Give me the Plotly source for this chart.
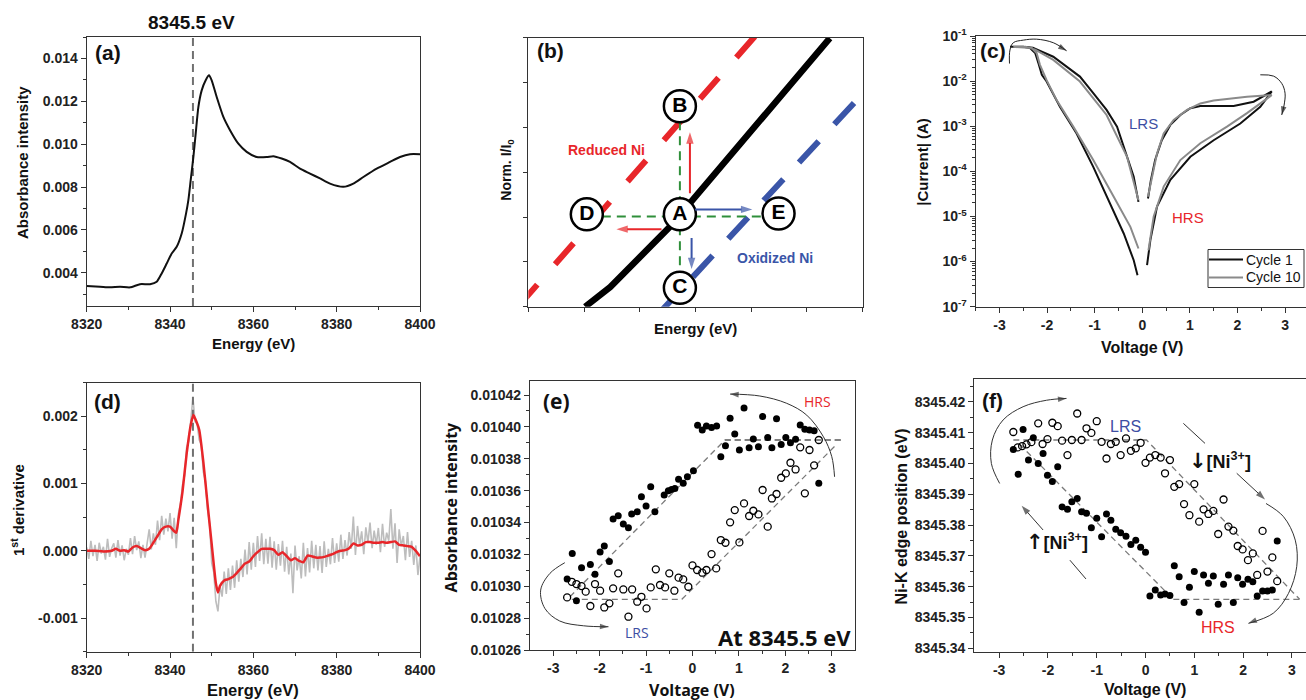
import math
import plotly.graph_objects as go

W, H = 1306, 700
FT = "Liberation Sans, Arial, sans-serif"
OS = "Open Sans, Liberation Sans, sans-serif"
RED = "#e8262a"
BLUE = "#3d4ea3"
BBLUE = "#3a55a8"
AXC = "#333333"

# ---------------- (a) XANES spectrum ----------------
a_energy = [8320, 8323.2, 8325.6, 8328, 8330.4, 8332.8, 8335.2, 8336.8, 8338, 8339.2, 8340.4, 8341.6,
            8342.8, 8343.84, 8344.4, 8344.96, 8345.6, 8346.16, 8346.8, 8347.6, 8348.56, 8349.36, 8350,
            8351.2, 8352.8, 8354.4, 8356.4, 8358.4, 8360.8, 8363.2, 8364.8, 8366.8, 8368.8, 8371.2,
            8373.6, 8376, 8378.4, 8381.6, 8384, 8386.4, 8389.6, 8392.8, 8395.2, 8397.6, 8400]
a_abs = [0.00338, 0.00335, 0.00332, 0.00335, 0.00332, 0.00347, 0.00347, 0.00358, 0.00397, 0.00443,
         0.0049, 0.00521, 0.00583, 0.00676, 0.00739, 0.00832, 0.0094, 0.01049, 0.01173, 0.01251,
         0.01298, 0.01321, 0.01298, 0.0122, 0.01127, 0.01065, 0.01002, 0.00964, 0.0094, 0.0094,
         0.00944, 0.00933, 0.00917, 0.00886, 0.00863, 0.0084, 0.00816, 0.00801, 0.00816, 0.00847,
         0.00886, 0.00917, 0.0094, 0.00953, 0.00953]
edge_energy = 8345.5

# ---------------- (d) first derivative ----------------
d_smooth_e = [8320, 8322, 8324, 8326, 8327, 8328, 8329, 8330, 8331, 8332, 8333, 8334, 8335, 8336, 8337,
              8338, 8339, 8340, 8341, 8341.5, 8342, 8343, 8344, 8345, 8345.6, 8346, 8347, 8348, 8349,
              8350, 8351, 8351.5, 8352, 8353, 8354, 8355, 8356, 8357, 8358, 8359, 8360, 8361, 8362,
              8363, 8364, 8365, 8366, 8367, 8368, 8369, 8370, 8371, 8372, 8373, 8374, 8375, 8376, 8377,
              8378, 8379, 8380, 8381, 8382, 8383, 8384, 8385, 8386, 8387, 8388, 8389, 8390, 8391, 8392,
              8393, 8394, 8395, 8396, 8397, 8398, 8399, 8400]
d_smooth = [0.0, 0.0, -0.00001, 0.0, 0.00003, 0.0, 0.00001, -0.00001, 0.00005, 0.00007, 0.00004, 0.00001,
            0.00003, 0.00012, 0.00022, 0.00032, 0.00036, 0.00036, 0.00029, 0.00027, 0.00046, 0.00088,
            0.00145, 0.00188, 0.00202, 0.00197, 0.0018, 0.00132, 0.0007, 0.0001, -0.00048, -0.00062,
            -0.00052, -0.00044, -0.00042, -0.00039, -0.00033, -0.00026, -0.00019, -0.00016, -0.00008,
            -0.00002, 0.00003, 0.00003, 0.00003, 0.00001, -0.00006, -0.00002, -0.00008, -0.00014, -0.00011,
            -0.00015, -0.00017, -0.00007, -0.00008, -0.0001, -0.0001, -0.00009, -0.00007, -0.00005,
            -0.00002, 0.0, 0.00001, 0.00004, 0.00011, 0.00008, 0.00009, 0.00013, 0.00013, 0.00012,
            0.00012, 0.00013, 0.00012, 0.00013, 0.00014, 0.00009, 0.00008, 0.00007, 0.00006, 0.0, -0.00008]
d_raw_e = [8320 + 0.5 * i for i in range(161)]
d_raw = [0.00005, -0.00012, 0.00015, -0.00008, 0.00009, -0.00015, 0.00012, -0.00004, 0.00006, -0.00013,
         0.00018, -0.00009, 0.00004, 0.00011, -0.0001, 0.00016, -0.00007, 0.00008, -0.00014, 0.00003,
         -0.00006, 0.00019, -0.00005, 0.00022, 0.00001, 0.00014, -0.00011, 0.00009, -0.0001, 0.00015,
         0.00032, 0.00002, 0.00026, 0.00009, 0.00045, 0.00016, 0.00052, 0.00024, 0.00048, 0.00029,
         0.00056, 0.00018, 0.00049, 0.00004, 0.00055, 0.0007, 0.00098, 0.00112, 0.00154, 0.00163,
         0.00198, 0.00228, 0.00192, 0.00189, 0.00165, 0.00158, 0.00117, 0.00104, 0.00062, 0.00041,
         -0.00018, -0.00032, -0.00075, -0.0009, -0.00052, -0.00068, -0.00031, -0.00064, -0.00026, -0.00058,
         -0.00022, -0.00055, -0.00014, -0.00046, -0.00012, -0.00039, 0.00002, -0.00035, 0.00013, -0.00028,
         0.00012, -0.00024, 0.00022, -0.00015, 0.00026, -0.0002, 0.00018, -0.00019, 0.00021, -0.00025,
         0.00014, -0.00028, 0.0001, -0.00022, 0.00015, -0.00031, 0.00006, -0.00035, -0.00004, -0.00063,
         0.00008, -0.00029, -0.00008, -0.00041, 0.00012, -0.00038, 0.00004, -0.00032, 0.00015, -0.00026,
         0.00009, -0.00029, 0.00007, -0.00033, 0.00014, -0.00024, 0.00003, -0.0002, 0.00019, -0.00018,
         0.00011, -0.00016, 0.00024, -0.00012, 0.00016, -0.00007, 0.00028, 0.00003, 0.00051, -0.00006,
         0.00037, 0.00008, 0.00029, -0.00005, 0.00035, 0.00012, 0.00042, 0.00004, 0.0003, 0.00009,
         0.00034, -0.00002, 0.0004, 0.00006, 0.00027, 0.00015, 0.00062, 0.00003, 0.00041, -0.00018,
         0.00032, 0.00007, 0.00022, -0.00014, 0.00028, -0.00009, 0.00015, -0.00021, 0.00008, -0.00036,
         -0.00009]

# ---------------- (b) schematic ----------------
b_black_x = [1.02, 1.47, 2.54, 5.41]
b_black_y = [0.0, 0.44, 1.78, 5.99]
b_red_x = [-0.82, 4.10]
b_red_y = [-0.90, 6.08]
b_blue_x = [1.685, 6.0]
b_blue_y = [-1.035, 4.75]
b_circ_label = ["A", "B", "C", "D", "E"]
b_circ_x = [2.72, 2.72, 2.72, 1.05, 4.49]
b_circ_y = [2.06, 4.47, 0.42, 2.06, 2.08]
b_green_h_x = [1.05, 4.49]
b_green_h_y = [2.01, 2.01]
b_green_v_x = [2.72, 2.72]
b_green_v_y = [4.47, 0.42]
# arrows: (x_tail, y_tail, x_head, y_head, color)
b_arrows = [(2.90, 2.53, 2.90, 3.89, RED), (2.39, 1.73, 1.58, 1.73, RED),
            (2.99, 2.17, 4.02, 2.17, BBLUE), (2.93, 1.53, 2.93, 0.84, BBLUE)]

# ---------------- (c) I-V curves ----------------
c1_neg_V = [-0.10, -0.18, -0.39, -0.68, -1.03, -1.38, -1.73, -2.01, -2.11, -2.18, -2.25, -2.36, -2.50, -2.78,
            -2.50, -2.30, -2.10, -1.87, -1.59, -1.31, -1.03, -0.75, -0.53, -0.32, -0.18, -0.08]
c1_neg_I = [5.0e-7, 1.07e-6, 4.2e-6, 1.95e-5, 1.26e-4, 6.9e-4, 2.7e-3, 9.8e-3, 1.38e-2, 2.45e-2, 4.2e-2,
            5.4e-2, 5.75e-2, 5.75e-2, 5.75e-2, 5.5e-2, 4.4e-2, 3.47e-2, 2.1e-2, 1.26e-2, 5.4e-3, 2.3e-3,
            9.8e-4, 2.1e-4, 7.6e-5, 2.1e-5]
c1_pos_V = [0.10, 0.17, 0.31, 0.59, 1.01, 1.50, 2.06, 2.48, 2.72, 2.34, 1.92, 1.50, 1.22, 1.01, 0.80, 0.59,
            0.41, 0.27, 0.18, 0.12]
c1_pos_I = [8.3e-7, 3.0e-6, 1.66e-5, 6.5e-5, 2.1e-4, 4.9e-4, 1.15e-3, 2.7e-3, 5.9e-3, 3.5e-3, 2.8e-3, 2.8e-3,
            2.8e-3, 2.5e-3, 1.78e-3, 1.07e-3, 4.9e-4, 1.78e-4, 6.3e-5, 2.5e-5]
c10_neg_V = [-0.08, -0.25, -0.60, -1.03, -1.45, -1.80, -2.01, -2.09, -2.15, -2.22, -2.32, -2.71,
             -2.45, -2.25, -1.87, -1.31, -0.75, -0.32, -0.11, -0.08]
c10_neg_I = [1.95e-6, 5.9e-6, 2.75e-5, 1.78e-4, 9.8e-4, 3.8e-3, 1.05e-2, 1.62e-2, 2.3e-2, 4.2e-2, 5.4e-2,
             5.75e-2, 5.75e-2, 5.0e-2, 2.95e-2, 9.8e-3, 1.78e-3, 2.1e-4, 2.75e-5, 2.3e-5]
c10_pos_V = [0.13, 0.24, 0.45, 0.80, 1.22, 1.78, 2.20, 2.72, 2.20, 1.50, 1.22, 0.94, 0.66, 0.45, 0.31, 0.20, 0.12]
c10_pos_I = [1.78e-6, 1.0e-5, 4.6e-5, 1.78e-4, 4.2e-4, 9.8e-4, 1.95e-3, 4.9e-3, 4.5e-3, 3.7e-3, 3.2e-3,
             2.3e-3, 1.38e-3, 6.9e-4, 2.5e-4, 7.6e-5, 2.75e-5]
c_arc1_V = [-2.79, -2.78, -2.71, -2.50, -2.22, -1.87, -1.59]
c_arc1_I = [2.45e-2, 4.9e-2, 7.1e-2, 8.1e-2, 8.5e-2, 7.1e-2, 4.7e-2]
c_arc2_V = [2.48, 2.76, 2.93, 3.00, 2.98, 2.93]
c_arc2_I = [1.38e-2, 1.29e-2, 8.9e-3, 5.4e-3, 2.95e-3, 1.78e-3]
c_legend_names = ["Cycle 1", "Cycle 10"]
c_legend_colors = ["#111111", "#8a8a8a"]

# ---------------- (e) absorbance vs voltage ----------------
e_fill_V = [-2.70, -2.59, -2.50, -2.39, -2.20, -2.10, -1.99, -1.90, -1.79, -1.71, -1.60, -1.49, -1.38, -1.31,
            -1.19, -1.10, -1.00, -0.90, -0.81, -0.61, -0.52, -0.45, -0.38, -0.30, -0.20, -0.11, 0.02, 0.11,
            0.21, 0.30, 0.41, 0.52, 0.61, 0.71, 0.81, 0.91, 1.01, 1.11, 1.22, 1.31, 1.42, 1.51, 1.62, 1.71,
            1.81, 1.91, 2.01, 2.11, 2.22, 2.32, 2.42, 2.52, 2.62, 2.72]
e_fill_A = [0.0103045, 0.0103206, 0.0102909, 0.0103116, 0.0103137, 0.0103075, 0.0103215, 0.0103252,
            0.0103156, 0.0103422, 0.0103443, 0.0103390, 0.0103367, 0.0103453, 0.0103468, 0.0103562,
            0.0103503, 0.0103625, 0.0103468, 0.0103572, 0.0103600, 0.0103608, 0.0103614, 0.0103671,
            0.0103646, 0.0103687, 0.0103725, 0.0104010, 0.0103980, 0.0104005, 0.0103997, 0.0104005,
            0.0103813, 0.0103882, 0.0104054, 0.0103955, 0.0103855, 0.0104118, 0.0103869, 0.0103924,
            0.0103876, 0.0104066, 0.0103934, 0.0103869, 0.0104051, 0.0103890, 0.0103934, 0.0103901,
            0.0103922, 0.0104012, 0.0103985, 0.0103980, 0.0103976, 0.0103646]
e_open_V = [-2.70, -2.60, -2.50, -2.39, -2.30, -2.20, -2.10, -1.99, -1.90, -1.79, -1.71, -1.60, -1.49, -1.38,
            -1.30, -1.19, -1.10, -0.99, -0.90, -0.79, -0.70, -0.59, -0.50, -0.39, -0.30, -0.20, -0.09, 0.00,
            0.10, 0.21, 0.30, 0.41, 0.51, 0.61, 0.71, 0.81, 0.91, 1.01, 1.11, 1.22, 1.31, 1.42, 1.51, 1.62,
            1.71, 1.81, 1.91, 2.01, 2.11, 2.22, 2.32, 2.42, 2.52, 2.62, 2.72]
e_open_A = [0.0102930, 0.0103028, 0.0103014, 0.0103001, 0.0102966, 0.0102876, 0.0103014, 0.0102972,
            0.0102867, 0.0102893, 0.0102987, 0.0103081, 0.0102980, 0.0102809, 0.0102980, 0.0102903,
            0.0102934, 0.0102861, 0.0102993, 0.0103106, 0.0103008, 0.0102993, 0.0103081, 0.0102972,
            0.0103054, 0.0103043, 0.0102997, 0.0103131, 0.0103102, 0.0103085, 0.0103102, 0.0103202,
            0.0103112, 0.0103290, 0.0103273, 0.0103401, 0.0103478, 0.0103275, 0.0103520, 0.0103441,
            0.0103474, 0.0103451, 0.0103604, 0.0103374, 0.0103551, 0.0103579, 0.0103681, 0.0103708,
            0.0103775, 0.0103733, 0.0103872, 0.0103583, 0.0103855, 0.0103759, 0.0103918]
e_guide_V = [-2.64, 0.70, 3.21, None, 0.70, 3.21, None, -2.60, -0.23, 3.11]
e_guide_A = [0.0102934, 0.0103918, 0.0103918, None, 0.0103918, 0.0103918, None, 0.0102918, 0.0102918, 0.0103892]
e_arc1_V = [3.06, 3.00, 2.82, 2.46, 2.03, 1.45, 0.81]
e_arc1_A = [0.0103687, 0.0103813, 0.0103938, 0.0104074, 0.0104148, 0.0104194, 0.0104206]
e_arc2_V = [-2.75, -3.07, -3.27, -3.18, -2.86, -2.35, -1.81]
e_arc2_A = [0.0103148, 0.0103081, 0.0102976, 0.0102861, 0.0102782, 0.0102752, 0.0102746]

# ---------------- (f) edge position vs voltage ----------------
f_open_V = [-2.71, -2.62, -2.53, -2.44, -2.34, -2.20, -2.11, -2.01, -1.91, -1.80, -1.71, -1.60, -1.51, -1.40,
            -1.31, -1.21, -1.11, -1.00, -0.90, -0.80, -0.71, -0.61, -0.51, -0.40, -0.30, -0.20, -0.10, 0.00,
            0.09, 0.20, 0.31, 0.40, 0.50, 0.59, 0.69, 0.79, 0.90, 1.00, 1.10, 1.19, 1.29, 1.39, 1.49, 1.60,
            1.70, 1.80, 1.89, 1.99, 2.10, 2.20, 2.29, 2.40, 2.50, 2.60, 2.70]
f_open_E = [8345.4102, 8345.4052, 8345.4056, 8345.4062, 8345.4069, 8345.4130, 8345.4063, 8345.4079, 8345.4132,
            8345.4121, 8345.4074, 8345.4027, 8345.4076, 8345.4162, 8345.4076, 8345.4114, 8345.4099, 8345.4137,
            8345.4070, 8345.4016, 8345.4063, 8345.4070, 8345.4027, 8345.4081, 8345.4041, 8345.4049, 8345.4067,
            8345.4002, 8345.4019, 8345.4027, 8345.4019, 8345.3968, 8345.4011, 8345.3924, 8345.3933, 8345.3868,
            8345.3832, 8345.3933, 8345.3811, 8345.3851, 8345.3836, 8345.3846, 8345.3771, 8345.3883, 8345.3795,
            8345.3782, 8345.3732, 8345.3721, 8345.3686, 8345.3708, 8345.3638, 8345.3781, 8345.3649, 8345.3695,
            8345.3618]
f_fill_V = [-2.71, -2.61, -2.51, -2.40, -2.30, -2.20, -2.10, -2.01, -1.91, -1.80, -1.71, -1.60, -1.51, -1.40,
            -1.31, -1.21, -1.11, -1.00, -0.90, -0.80, -0.71, -0.61, -0.51, -0.40, -0.30, -0.20, -0.10, 0.00,
            0.09, 0.20, 0.31, 0.40, 0.50, 0.59, 0.69, 0.79, 0.90, 1.00, 1.10, 1.19, 1.29, 1.39, 1.49, 1.60,
            1.70, 1.80, 1.89, 1.99, 2.10, 2.20, 2.29, 2.40, 2.50, 2.60, 2.70]
f_fill_E = [8345.4045, 8345.3965, 8345.4110, 8345.4011, 8345.4083, 8345.4000, 8345.4032, 8345.3962, 8345.3941,
            8345.3989, 8345.3859, 8345.3851, 8345.3876, 8345.3886, 8345.3843, 8345.3838, 8345.3791, 8345.3822,
            8345.3762, 8345.3836, 8345.3816, 8345.3786, 8345.3775, 8345.3764, 8345.3737, 8345.3751, 8345.3728,
            8345.3712, 8345.3570, 8345.3589, 8345.3573, 8345.3576, 8345.3571, 8345.3668, 8345.3632, 8345.3549,
            8345.3598, 8345.3649, 8345.3517, 8345.3638, 8345.3611, 8345.3635, 8345.3543, 8345.3608, 8345.3638,
            8345.3549, 8345.3629, 8345.3608, 8345.3624, 8345.3616, 8345.3570, 8345.3586, 8345.3586, 8345.3589,
            8345.3748]
f_guide_V = [-2.71, 0.02, 3.16, None, 0.57, 3.17, None, -2.58, 0.57]
f_guide_E = [8345.4076, 8345.4076, 8345.3559, None, 8345.3559, 8345.3559, None, 8345.4062, 8345.3559]
f_arc1_V = [-2.99, -3.16, -3.14, -2.92, -2.51, -2.03, -1.62]
f_arc1_E = [8345.3935, 8345.4000, 8345.4076, 8345.4141, 8345.4184, 8345.4205, 8345.4211]
f_arc2_V = [2.47, 2.83, 3.07, 3.10, 2.93, 2.62, 2.11]
f_arc2_E = [8345.3870, 8345.3827, 8345.3751, 8345.3665, 8345.3578, 8345.3514, 8345.3481]
f_seg_plain = [(0.776, 8345.4130, 1.22, 8345.4065), (-1.55, 8345.3686, -1.22, 8345.3625)]
f_seg_arrow = [(1.87, 8345.3968, 2.45, 8345.3883), (-2.10, 8345.3784, -2.54, 8345.3863)]

volt_ticks = [-3, -2, -1, 0, 1, 2, 3]
volt_text = ["-3", "-2", "-1", "0", "1", "2", "3"]


def px(x):
    return x / W


def py(y):
    return 1 - y / H


def dom_x(l, r):
    return [px(l), min(px(r), 1.0)]


def dom_y(t, b):
    return [py(b), py(t)]


fig = go.Figure()


def arrow_line(xs, ys, xa, ya, color="#222", width=1.0, head=9, spline=False):
    """Line through (xs, ys) with an arrowhead marker on its last point."""
    n = len(xs)
    fig.add_trace(go.Scatter(
        x=xs, y=ys, mode="lines+markers", xaxis=xa, yaxis=ya, showlegend=False, hoverinfo="skip",
        line=dict(color=color, width=width, shape="spline" if spline else "linear"),
        marker=dict(symbol=["circle"] * (n - 1) + ["arrow"], size=[0] * (n - 1) + [head],
                    angleref="previous", color=color, line=dict(width=0))))


# (a)
fig.add_trace(go.Scatter(x=[edge_energy, edge_energy], y=[0.00245, 0.015], mode="lines",
                         line=dict(color="#707070", width=2, dash="8px,5px"), xaxis="x", yaxis="y", showlegend=False))
fig.add_trace(go.Scatter(x=a_energy, y=a_abs, mode="lines", line=dict(color="#111", width=2, shape="spline", smoothing=0.6),
                         xaxis="x", yaxis="y", showlegend=False))

# (b)
fig.add_trace(go.Scatter(x=b_red_x, y=b_red_y, mode="lines", line=dict(color=RED, width=6, dash="28px,27px"),
                         xaxis="x2", yaxis="y2", showlegend=False))
fig.add_trace(go.Scatter(x=b_blue_x, y=b_blue_y, mode="lines", line=dict(color=BBLUE, width=6, dash="29px,23px"),
                         xaxis="x2", yaxis="y2", showlegend=False))
fig.add_trace(go.Scatter(x=b_black_x, y=b_black_y, mode="lines", line=dict(color="black", width=6.5),
                         xaxis="x2", yaxis="y2", showlegend=False))
fig.add_trace(go.Scatter(x=b_green_h_x, y=b_green_h_y, mode="lines", line=dict(color="#2f8f3a", width=2, dash="9px,6px"),
                         xaxis="x2", yaxis="y2", showlegend=False))
fig.add_trace(go.Scatter(x=b_green_v_x, y=b_green_v_y, mode="lines", line=dict(color="#2f8f3a", width=2, dash="9px,6px"),
                         xaxis="x2", yaxis="y2", showlegend=False))
fig.add_trace(go.Scatter(x=b_circ_x, y=b_circ_y, mode="markers+text", text=b_circ_label, textposition="middle center",
                         textfont=dict(family=FT, size=21, color="black", weight="bold"),
                         marker=dict(size=32, color="white", line=dict(color="black", width=2.5)),
                         xaxis="x2", yaxis="y2", showlegend=False, cliponaxis=False))
for (x0, y0, x1, y1, col) in b_arrows:
    arrow_line([x0, x1], [y0, y1], "x2", "y2", color=col, width=2, head=12)

# (c)
fig.add_trace(go.Scatter(x=c1_neg_V + [None] + c1_pos_V, y=c1_neg_I + [None] + c1_pos_I, mode="lines",
                         line=dict(color=c_legend_colors[0], width=2), name=c_legend_names[0],
                         xaxis="x3", yaxis="y3", showlegend=False))
fig.add_trace(go.Scatter(x=c10_neg_V + [None] + c10_pos_V, y=c10_neg_I + [None] + c10_pos_I, mode="lines",
                         line=dict(color=c_legend_colors[1], width=2), name=c_legend_names[1],
                         xaxis="x3", yaxis="y3", showlegend=False))
arrow_line(c_arc1_V, c_arc1_I, "x3", "y3", spline=True)
arrow_line(c_arc2_V, c_arc2_I, "x3", "y3", spline=True)

# (d)
fig.add_trace(go.Scatter(x=d_raw_e, y=d_raw, mode="lines", line=dict(color="#bdbdbd", width=1.6),
                         xaxis="x4", yaxis="y4", showlegend=False))
fig.add_trace(go.Scatter(x=[edge_energy, edge_energy], y=[-0.0015, 0.0025], mode="lines",
                         line=dict(color="#707070", width=2, dash="8px,5px"), xaxis="x4", yaxis="y4", showlegend=False))
fig.add_trace(go.Scatter(x=d_smooth_e, y=d_smooth, mode="lines", line=dict(color=RED, width=2.5, shape="spline", smoothing=0.5),
                         xaxis="x4", yaxis="y4", showlegend=False))

# (e)
fig.add_trace(go.Scatter(x=e_guide_V, y=e_guide_A, mode="lines", line=dict(color="#7a7a7a", width=1.3, dash="6px,4px"),
                         xaxis="x5", yaxis="y5", showlegend=False))
arrow_line(e_arc1_V, e_arc1_A, "x5", "y5", color="#333", spline=True)
arrow_line(e_arc2_V, e_arc2_A, "x5", "y5", color="#333", spline=True)
fig.add_trace(go.Scatter(x=e_fill_V, y=e_fill_A, mode="markers", marker=dict(size=7, color="black"),
                         xaxis="x5", yaxis="y5", showlegend=False))
fig.add_trace(go.Scatter(x=e_open_V, y=e_open_A, mode="markers",
                         marker=dict(size=7, symbol="circle-open", color="black", line=dict(width=1.3)),
                         xaxis="x5", yaxis="y5", showlegend=False))

# (f)
fig.add_trace(go.Scatter(x=f_guide_V, y=f_guide_E, mode="lines", line=dict(color="#7a7a7a", width=1.3, dash="6px,4px"),
                         xaxis="x6", yaxis="y6", showlegend=False))
arrow_line(f_arc1_V, f_arc1_E, "x6", "y6", color="#333", spline=True)
arrow_line(f_arc2_V, f_arc2_E, "x6", "y6", color="#333", spline=True)
for (x0, y0, x1, y1) in f_seg_plain:
    fig.add_trace(go.Scatter(x=[x0, x1], y=[y0, y1], mode="lines", line=dict(color="#333", width=1),
                             xaxis="x6", yaxis="y6", showlegend=False))
for (x0, y0, x1, y1) in f_seg_arrow:
    arrow_line([x0, x1], [y0, y1], "x6", "y6", color="#333", head=10)
fig.add_trace(go.Scatter(x=f_fill_V, y=f_fill_E, mode="markers", marker=dict(size=7, color="black"),
                         xaxis="x6", yaxis="y6", showlegend=False))
fig.add_trace(go.Scatter(x=f_open_V, y=f_open_E, mode="markers",
                         marker=dict(size=7, symbol="circle-open", color="black", line=dict(width=1.3)),
                         xaxis="x6", yaxis="y6", showlegend=False))

TICKF = dict(family=FT, size=14, color="#222", weight="bold")


def axis(**kw):
    base = dict(showline=True, linecolor=AXC, linewidth=1.2, mirror=True, ticks="outside", ticklen=5,
                tickwidth=1.2, tickcolor=AXC, showgrid=False, zeroline=False, tickfont=TICKF, fixedrange=True)
    base.update(kw)
    return base


MINOR = dict(ticks="outside", ticklen=3, tickwidth=1, tickcolor=AXC, showgrid=False)

layout_axes = dict(
    xaxis=axis(domain=dom_x(86.7, 420), anchor="y", range=[8320, 8400], tickmode="linear", tick0=8320, dtick=20,
               minor=dict(MINOR, dtick=10)),
    yaxis=axis(domain=dom_y(37, 306), anchor="x", range=[0.00245, 0.015], tickmode="linear", tick0=0.004,
               dtick=0.002, tickformat=".3f", minor=dict(MINOR, dtick=0.001)),
    xaxis2=axis(domain=dom_x(528.3, 862.7), anchor="y2", range=[0, 6], tickmode="linear", tick0=0, dtick=1,
                showticklabels=False, ticklen=4),
    yaxis2=axis(domain=dom_y(37.7, 306.7), anchor="x2", range=[0, 6], tickmode="linear", tick0=0, dtick=1,
                showticklabels=False, ticklen=4),
    xaxis3=axis(domain=dom_x(975.7, 1306), anchor="y3", range=[-3.5, 3.44], tickmode="array", tickvals=volt_ticks,
                ticktext=volt_text, minor=dict(MINOR, tickmode="array", tickvals=[-3.5, -2.5, -1.5, -0.5, 0.5, 1.5, 2.5])),
    yaxis3=axis(domain=dom_y(36, 306.7), anchor="x3", type="log", range=[-7, -1], mirror=False, tickmode="array",
                tickvals=[1e-7, 1e-6, 1e-5, 1e-4, 1e-3, 1e-2, 1e-1],
                ticktext=["10<sup>-7</sup>", "10<sup>-6</sup>", "10<sup>-5</sup>", "10<sup>-4</sup>",
                          "10<sup>-3</sup>", "10<sup>-2</sup>", "10<sup>-1</sup>"],
                minor=dict(MINOR, ticklen=2.5, dtick="D1")),
    xaxis4=axis(domain=dom_x(86.7, 420), anchor="y4", range=[8320, 8400], tickmode="linear", tick0=8320, dtick=20,
                minor=dict(MINOR, dtick=10)),
    yaxis4=axis(domain=dom_y(382.7, 651.7), anchor="x4", range=[-0.0015, 0.0025], tickmode="array",
                tickvals=[-0.001, 0.0, 0.001, 0.002], ticktext=["-0.001", "0.000", "0.001", "0.002"],
                minor=dict(MINOR, tickmode="array", tickvals=[-0.0015, -0.0005, 0.0005, 0.0015, 0.0025])),
    xaxis5=axis(domain=dom_x(530, 855), anchor="y5", range=[-3.5, 3.5], tickmode="array", tickvals=volt_ticks,
                ticktext=volt_text, minor=dict(MINOR, tickmode="array", tickvals=[-2.5, -1.5, -0.5, 0.5, 1.5, 2.5])),
    yaxis5=axis(domain=dom_y(380.7, 650), anchor="x5", range=[0.01026, 0.010429], tickmode="linear", tick0=0.01026,
                dtick=0.00002, tickformat=".5f", minor=dict(MINOR, dtick=0.00001)),
    xaxis6=axis(domain=dom_x(974.3, 1306), anchor="y6", range=[-3.51, 3.29], tickmode="array", tickvals=volt_ticks,
                ticktext=volt_text, minor=dict(MINOR, tickmode="array", tickvals=[-2.5, -1.5, -0.5, 0.5, 1.5, 2.5])),
    yaxis6=axis(domain=dom_y(379, 651.7), anchor="x6", range=[8345.3389, 8345.4274], mirror=False, tickmode="linear",
                tick0=8345.34, dtick=0.01, tickformat=".2f", minor=dict(MINOR, dtick=0.005)),
)

ann = []


def ptxt(x, y, s, size, color="#111", family=FT, bold=True, angle=0, xanchor="center"):
    ann.append(dict(x=px(x), y=py(y), xref="paper", yref="paper", text=s, showarrow=False, textangle=angle,
                    xanchor=xanchor, yanchor="middle",
                    font=dict(family=family, size=size, color=color, weight="bold" if bold else "normal")))


def dtxt(xr, yr, x, y, s, size, color="#111", family=FT, bold=False):
    ann.append(dict(x=x, y=y, xref=xr, yref=yr, text=s, showarrow=False, xanchor="center", yanchor="middle",
                    font=dict(family=family, size=size, color=color, weight="bold" if bold else "normal")))


# panel labels
ptxt(108, 52, "(a)", 21)
ptxt(550, 51, "(b)", 21)
ptxt(993, 51, "(c)", 21)
ptxt(107, 401, "(d)", 21)
ptxt(556, 401, "(e)", 21, family=OS)
ptxt(992, 400, "(f)", 21)
# axis titles
ptxt(191.7, 23, "8345.5 eV", 19)
ptxt(22, 163, "Absorbance intensity", 15, angle=-90)
ptxt(253.4, 343, "Energy (eV)", 15)
ptxt(506.7, 170, "Norm. I/I<sub>0</sub>", 14, angle=-90)
ptxt(695.5, 328, "Energy (eV)", 15)
ptxt(921.7, 162, "|Current| (A)", 15, angle=-90)
ptxt(1142, 347, "Voltage (V)", 16)
ptxt(17, 510, "1<sup>st</sup> derivative", 15, angle=-90)
ptxt(253.4, 690, "Energy (eV)", 16.5)
ptxt(450.7, 506.7, "Absorbance intensity", 16, family=OS, angle=-90)
ptxt(691.7, 690, "Voltage (V)", 16, family=OS)
ptxt(901.7, 516.7, "Ni-K edge position (eV)", 16, angle=-90)
ptxt(1145, 689, "Voltage (V)", 16)

# (b) labels
dtxt("x2", "y2", 1.41, 3.5, "Reduced Ni", 14, color=RED, bold=True)
dtxt("x2", "y2", 4.43, 1.08, "Oxidized Ni", 14, color=BBLUE, bold=True)

# (c) labels (log axis -> log10 coords)
dtxt("x3", "y3", 0.025, math.log10(1.15e-3), "LRS", 15, color=BLUE)
dtxt("x3", "y3", 0.97, math.log10(9.5e-6), "HRS", 15, color=RED)

# (c) legend box (drawn by hand to match the compact framed legend)
shapes = [dict(type="rect", xref="paper", yref="paper", x0=px(1208), x1=px(1304), y0=py(287.5), y1=py(249.5),
               line=dict(color=AXC, width=1), fillcolor="white", layer="above")]
for i, (nm, col) in enumerate(zip(c_legend_names, c_legend_colors)):
    yy = 259.5 + 18 * i
    shapes.append(dict(type="line", xref="paper", yref="paper", x0=px(1209), x1=px(1243), y0=py(yy), y1=py(yy),
                       line=dict(color=col, width=2.2), layer="above"))
    ptxt(1244, yy, nm, 14, bold=False, xanchor="left")

# (e) labels
dtxt("x5", "y5", 2.70, 0.0104162, "HRS", 14, color=RED, family=OS)
dtxt("x5", "y5", -1.20, 0.0102710, "LRS", 14, color=BLUE, family=OS)
dtxt("x5", "y5", 1.99, 0.0102683, "At 8345.5 eV", 22, color="#111", family=OS, bold=True)

# (f) labels
ARW = "<span style='font-family:DejaVu Sans;font-size:21px'>{}</span>"
dtxt("x6", "y6", -0.42, 8345.4121, "LRS", 16, color=BLUE)
dtxt("x6", "y6", 1.49, 8345.3468, "HRS", 16, color=RED)
dtxt("x6", "y6", 1.53, 8345.4009, ARW.format("\u2193") + "[Ni<sup>3+</sup>]", 18, bold=True)
dtxt("x6", "y6", -1.82, 8345.3744, ARW.format("\u2191") + "[Ni<sup>3+</sup>]", 18, bold=True)

fig.update_layout(
    width=W, height=H, margin=dict(l=0, r=0, t=0, b=0, autoexpand=False),
    paper_bgcolor="white", plot_bgcolor="white",
    font=dict(family=FT, color="#111"),
    annotations=ann, shapes=shapes, showlegend=False,
    **layout_axes,
)

fig.write_html("out.html", config={"displayModeBar": False},
               post_script="document.body.style.margin='0px';")
